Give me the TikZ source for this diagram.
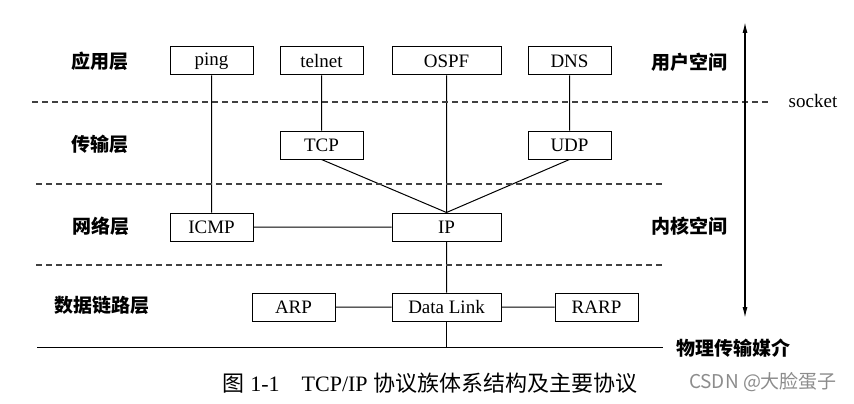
\documentclass[tikz,border=0pt]{standalone}
\usepackage{fontspec}
\setmainfont{Liberation Serif}
\newfontfamily\cjk{Noto Sans CJK SC}
\usetikzlibrary{positioning,arrows.meta}
\tikzset{proto node/.style={draw,minimum width=83pt,minimum height=28pt,
inner sep=0pt,font=\fontsize{19}{22}\selectfont},
wide node/.style={proto node,minimum width=109pt},
layer label/.style={font=\cjk\bfseries\fontsize{19}{22}\selectfont},
sep line/.style={dash pattern=on 6pt off 4pt,line width=1.2pt,black!75}}

\begin{document}
\begin{tikzpicture}[x=1pt,y=-1pt,line width=1pt]
    \useasboundingbox (0,0) rectangle (854,404);

    \node[proto node] (ping) at (211.5,61) {ping};
    \node[proto node] (telnet) [right=26pt of ping] {telnet};
    \node[wide node] (ospf) [right=28pt of telnet] {OSPF};
    \node[proto node] (dns) [right=26pt of ospf] {DNS};

    \node[proto node] (tcp) [below=55pt of telnet] {TCP};
    \node[proto node] (udp) [below=55pt of dns] {UDP};

    \node[proto node] (icmp) [below=137pt of ping] {ICMP};
    \node[wide node] (ip) [below=137pt of ospf] {IP};

    \node[wide node] (dlink) [below=51pt of ip] {Data Link};
    \node[proto node] (arp) [left=56pt of dlink] {ARP};
    \node[proto node] (rarp) [right=53pt of dlink] {RARP};

    \path[draw]
    (ping)--(icmp)
    (telnet)--(tcp)
    (ospf)--(ip)
    (dns)--(udp)
    (tcp.south)--(ip.north)
    (udp.south)--(ip.north)
    (icmp)--(ip)
    (arp)--(dlink)--(rarp)
    (ip)--(dlink);

    \coordinate (phyL) at (37,347);
    \coordinate (phyR) at (663,347);
    \draw (phyL)--(phyR);
    \draw (dlink)--(dlink |- phyR);

    \draw[sep line] (32,102)--(768,102);
    \draw[sep line] (36,184)--(663,184);
    \draw[sep line] (36,265)--(663,265);

    \coordinate (up) at (745,22);
    \coordinate (down) at (745,318);
    \draw[{Latex[length=11pt,width=5pt]}-{Latex[length=11pt,width=5pt]},line width=1.3pt] (up)--(down);

    \node[layer label] (app) at (100,61) {应用层};
    \node[layer label] (trans) at (100,144) {传输层};
    \node[layer label] (net) at (101,226) {网络层};
    \node[layer label] (link) at (102,305) {数据链路层};
    \node[layer label] (user) at (689,62) {用户空间};
    \node[layer label] (kernel) at (689,226) {内核空间};
    \node[layer label] (phy) at (733,348) {物理传输媒介};
    \node[font=\fontsize{19}{22}\selectfont] (socket) at (813,101) {socket};

    \node[font=\fontsize{22}{25}\selectfont] (caption) at (430,383)
    {{\cjk 图} 1-1\quad TCP/IP {\cjk 协议族体系结构及主要协议}};
    \node[font=\cjk\fontsize{19}{22}\selectfont,text=black!45] (mark) at (763,382)
    {CSDN @大脸蛋子};
\end{tikzpicture}
\end{document}
